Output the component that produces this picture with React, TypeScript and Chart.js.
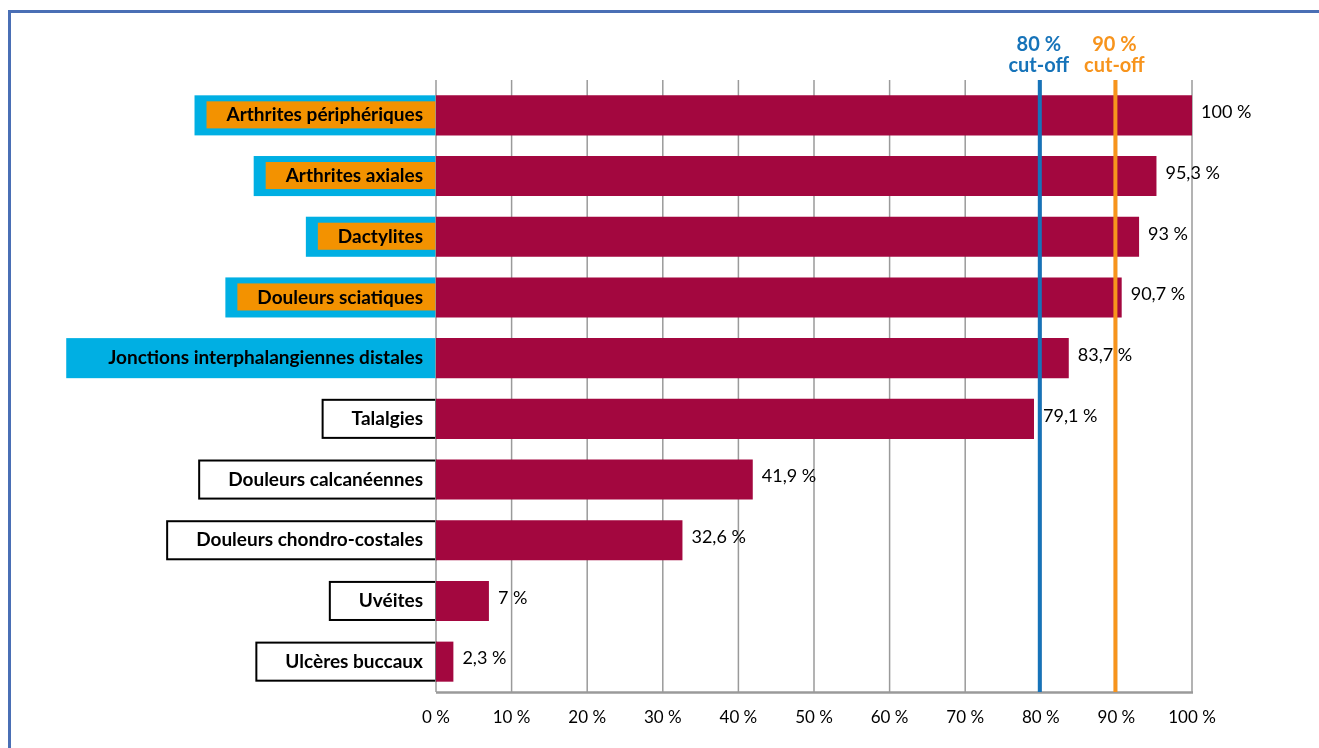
import React, { useEffect, useRef } from "react";
import { Chart, registerables } from "chart.js";

Chart.register(...registerables);

// ---- Data ----
const categories = [
  "Arthrites périphériques",
  "Arthrites axiales",
  "Dactylites",
  "Douleurs sciatiques",
  "Jonctions interphalangiennes distales",
  "Talalgies",
  "Douleurs calcanéennes",
  "Douleurs chondro-costales",
  "Uvéites",
  "Ulcères buccaux",
];
const values = [100, 95.3, 93, 90.7, 83.7, 79.1, 41.9, 32.6, 7, 2.3];
const valueLabels = ["100 %", "95,3 %", "93 %", "90,7 %", "83,7 %", "79,1 %", "41,9 %", "32,6 %", "7 %", "2,3 %"];
// highlight = cyan + orange, cyan = cyan only, outline = white with black frame
const labelStyles = ["highlight", "highlight", "highlight", "highlight", "cyan", "outline", "outline", "outline", "outline", "outline"];
const xTicks = [0, 10, 20, 30, 40, 50, 60, 70, 80, 90, 100];
const xTickLabels = ["0 %", "10 %", "20 %", "30 %", "40 %", "50 %", "60 %", "70 %", "80 %", "90 %", "100 %"];
const cutoffValues = [80, 90];
const cutoffTitles = ["80 %", "90 %"];
const cutoffSubtitles = ["cut-off", "cut-off"];

// ---- Styles ----
const BAR_COLOR = "#a3073f";
const CYAN = "#00afe3";
const ORANGE = "#f39200";
const GRID = "#9a9a9a";
const FRAME = "#4a6fb5";
const CUTOFF_COLORS = ["#1673b9", "#f7941d"];
const FONT = "Lato, 'Open Sans', sans-serif";
const LABEL_SIZE = 19;
const LABEL_FONT = `bold ${LABEL_SIZE}px ${FONT}`;
const CUTOFF_FONT = `bold 20px ${FONT}`;
const TICK_PAD = 13;

const framePlugin = {
  id: "frame",
  beforeDraw(chart: any) {
    const ctx = chart.ctx;
    ctx.save();
    ctx.fillStyle = "#ffffff";
    ctx.fillRect(0, 0, chart.width, chart.height);
    ctx.fillStyle = FRAME;
    ctx.fillRect(8, 10, chart.width - 8, 3);
    ctx.fillRect(8, 10, 3, chart.height - 10);
    ctx.restore();
  },
};

const labelBoxPlugin = {
  id: "labelBoxes",
  beforeDraw(chart: any) {
    const ctx = chart.ctx;
    const yScale = chart.scales.y;
    const left = chart.chartArea.left;
    const meta = chart.getDatasetMeta(0);
    ctx.save();
    ctx.font = LABEL_FONT;
    categories.forEach((cat, i) => {
      const el: any = meta.data[i];
      const yc = yScale.getPixelForValue(i);
      const h = el ? el.height : 40;
      const top = yc - h / 2;
      const textW = ctx.measureText(cat).width;
      const textLeft = yScale.right - TICK_PAD - textW;
      const style = labelStyles[i];
      if (style === "highlight") {
        ctx.fillStyle = CYAN;
        ctx.fillRect(textLeft - 32, top, left - (textLeft - 32), h);
        ctx.fillStyle = ORANGE;
        ctx.fillRect(textLeft - 20, top + 6, left - (textLeft - 20), h - 13);
      } else if (style === "cyan") {
        ctx.fillStyle = CYAN;
        ctx.fillRect(textLeft - 42, top, left - (textLeft - 42), h);
      } else {
        const bx = textLeft - 30;
        ctx.fillStyle = "#ffffff";
        ctx.fillRect(bx, top, left - bx, h);
        ctx.strokeStyle = "#000000";
        ctx.lineWidth = 2;
        ctx.strokeRect(bx + 1, top + 1, left - bx - 1, h - 2);
      }
    });
    ctx.restore();
  },
};

const gridPlugin = {
  id: "customGrid",
  beforeDatasetsDraw(chart: any) {
    const ctx = chart.ctx;
    const xScale = chart.scales.x;
    const { top, bottom, left, right } = chart.chartArea;
    ctx.save();
    ctx.strokeStyle = GRID;
    ctx.lineWidth = 1.5;
    xTicks.forEach((v) => {
      const x = xScale.getPixelForValue(v);
      ctx.beginPath();
      ctx.moveTo(x, top - 5);
      ctx.lineTo(x, bottom);
      ctx.stroke();
    });
    ctx.lineWidth = 2.5;
    ctx.beginPath();
    ctx.moveTo(left, bottom + 0.5);
    ctx.lineTo(right + 1, bottom + 0.5);
    ctx.stroke();
    ctx.restore();
  },
};

const overlayPlugin = {
  id: "overlay",
  afterDatasetsDraw(chart: any) {
    const ctx = chart.ctx;
    const xScale = chart.scales.x;
    const yScale = chart.scales.y;
    const { top, bottom } = chart.chartArea;
    ctx.save();
    // cut-off lines
    cutoffValues.forEach((v, i) => {
      const x = xScale.getPixelForValue(v) - 1;
      ctx.strokeStyle = CUTOFF_COLORS[i];
      ctx.lineWidth = 4;
      ctx.beginPath();
      ctx.moveTo(x, top - 5);
      ctx.lineTo(x, bottom);
      ctx.stroke();
      ctx.fillStyle = CUTOFF_COLORS[i];
      ctx.font = CUTOFF_FONT;
      ctx.textAlign = "center";
      ctx.textBaseline = "middle";
      ctx.fillText(cutoffTitles[i], x - 1, top - 40);
      ctx.fillText(cutoffSubtitles[i], x - 1, top - 19);
    });
    // value labels
    ctx.fillStyle = "#000000";
    ctx.font = `18px ${FONT}`;
    ctx.textAlign = "left";
    ctx.textBaseline = "middle";
    values.forEach((v, i) => {
      const x = xScale.getPixelForValue(v) + 9;
      const y = yScale.getPixelForValue(i) - 3;
      ctx.fillText(valueLabels[i], x, y);
    });
    ctx.restore();
  },
};

export default function App() {
  const canvasRef = useRef<HTMLCanvasElement | null>(null);

  useEffect(() => {
    if (!canvasRef.current) return;
    const chart = new Chart(canvasRef.current, {
      type: "bar",
      data: {
        labels: categories,
        datasets: [
          {
            data: values,
            backgroundColor: BAR_COLOR,
            borderWidth: 0,
            barPercentage: 0.66,
            categoryPercentage: 1,
          },
        ],
      },
      options: {
        indexAxis: "y",
        responsive: false,
        animation: false,
        devicePixelRatio: 1,
        layout: { padding: { top: 85, right: 127, bottom: 0, left: 0 } },
        plugins: {
          legend: { display: false },
          tooltip: { enabled: false },
        },
        scales: {
          x: {
            type: "linear",
            min: 0,
            max: 100,
            afterBuildTicks: (s: any) => {
              s.ticks = xTicks.map((v) => ({ value: v }));
            },
            afterFit: (s: any) => {
              s.height = 56;
            },
            ticks: {
              autoSkip: false,
              maxRotation: 0,
              padding: 15,
              color: "#000000",
              font: { family: FONT, size: 17 },
              callback: (v: any) => xTickLabels[xTicks.indexOf(Number(v))],
            },
            grid: { display: false, drawTicks: false },
            border: { display: false },
          },
          y: {
            type: "category",
            afterFit: (s: any) => {
              s.width = 436;
            },
            ticks: {
              padding: TICK_PAD,
              color: "#000000",
              font: { family: FONT, size: LABEL_SIZE, weight: "bold" },
            },
            grid: { display: false, drawTicks: false },
            border: { display: false },
          },
        },
      } as any,
      plugins: [framePlugin, labelBoxPlugin, gridPlugin, overlayPlugin],
    });
    return () => chart.destroy();
  }, []);

  return (
    <div style={{ position: "fixed", left: 0, top: 0, width: 1319, height: 748, background: "#fff" }}>
      <canvas ref={canvasRef} width={1319} height={748} style={{ display: "block", width: 1319, height: 748 }} />
    </div>
  );
}
